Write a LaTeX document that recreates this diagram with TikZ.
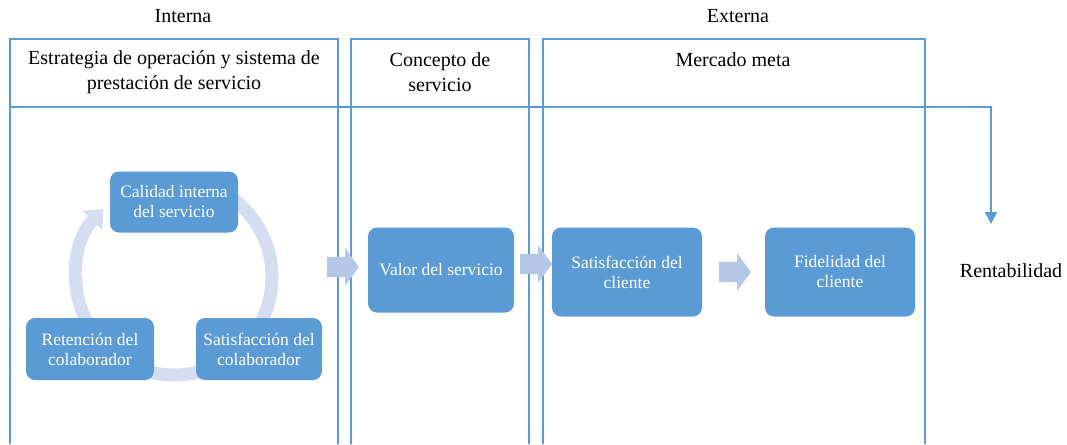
\documentclass[tikz,border=0pt]{standalone}
\usepackage{fontspec}
\setmainfont{Liberation Serif}
\usetikzlibrary{arrows.meta,positioning}

\definecolor{boxblue}{RGB}{91,155,213}
\definecolor{arrowblue}{RGB}{180,199,231}
\definecolor{ringblue}{RGB}{212,222,240}

% fat block arrow centred at a coordinate
\newcommand{\fatarrow}[1]{%
  \fill[arrowblue] (#1) ++(-16,-10) -- ++(18,0) -- ++(0,-9) -- ++(14,19)
    -- ++(-14,19) -- ++(0,-9) -- ++(-18,0) -- cycle;}

\begin{document}
\begin{tikzpicture}[x=1pt,y=-1pt,
    frame/.style={draw=boxblue,line width=1.5pt},
    stage/.style={rectangle,rounded corners=9pt,fill=boxblue,text=white,
      align=center,inner sep=0pt,font=\fontsize{17.5}{20}\selectfont},
    heading/.style={align=center,inner sep=0pt,font=\fontsize{20}{25}\selectfont},
    ring/.style={draw=ringblue,line width=13pt}]
    \useasboundingbox (0,0) rectangle (1067,444);

    %Columns
    \draw[frame] (10,444) -- (10,39) -- (338,39) -- (338,444);
    \draw[frame] (351,444) -- (351,39) -- (529,39) -- (529,444);
    \draw[frame] (543,444) -- (543,39) -- (925,39) -- (925,444);

    \node[heading] (interna) at (183,16) {Interna};
    \node[heading] (externa) at (738,16) {Externa};
    \node[heading] (estrategia) at (174,72) {Estrategia de operación y sistema de\\prestación de servicio};
    \node[heading] (concepto) at (440,72) {Concepto de\\servicio};
    \node[heading] (mercado) at (733,60) {Mercado meta};
    \node[heading] (rent) at (1011,271) {Rentabilidad};

    %Header line and arrow to Rentabilidad
    \coordinate (start) at (10,107);
    \coordinate (turn) at (991,107);
    \coordinate (rentin) at (991,224);
    \draw[frame,-{Triangle[length=12pt,width=12pt]}] (start) -- (turn) -- (rentin);

    %Cycle
    \coordinate (hub) at (174,277);
    \draw[ring] (hub) ++(236:98) arc[start angle=236,end angle=510,radius=98];
    \draw[ring,-{Triangle[length=16pt,width=27pt]}] (hub) ++(150:98)
      arc[start angle=150,end angle=224,radius=98];

    \node[stage,minimum width=128pt,minimum height=61pt] (calidad) at (174,202) {Calidad interna\\del servicio};
    \node[stage,minimum width=128pt,minimum height=62pt] (retencion) at (90,349) {Retención del\\colaborador};
    \node[stage,minimum width=126pt,minimum height=62pt] (satcolab) at (259,349) {Satisfacción del\\colaborador};

    %Chain
    \node[stage,minimum width=146pt,minimum height=85pt] (valor) at (441,270) {Valor del servicio};
    \node[stage,minimum width=150pt,minimum height=89pt] (satcli) at (627,272) {Satisfacción del\\cliente};
    \node[stage,minimum width=150pt,minimum height=89pt] (fidel) at (840,272) {Fidelidad del\\cliente};

    \coordinate (a1) at (343,267);
    \coordinate (a2) at (536,264);
    \coordinate (a3) at (735,272);
    \fatarrow{a1}
    \fatarrow{a2}
    \fatarrow{a3}
\end{tikzpicture}
\end{document}
